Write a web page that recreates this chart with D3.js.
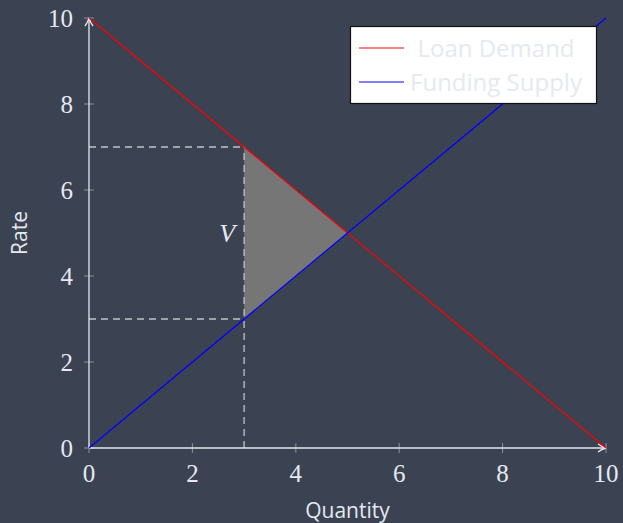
<!DOCTYPE html>
<html><head><meta charset="utf-8">
<script src="https://cdn.jsdelivr.net/npm/d3@7"></script>
<style>html,body{margin:0;padding:0;background:#3b4252;}svg{display:block;}</style>
</head><body><svg id="c" width="623" height="523"></svg>
<script>
const xTicks = [0, 2, 4, 6, 8, 10];
const yTicks = [0, 2, 4, 6, 8, 10];
const demandX = [0, 10];
const demandY = [10, 0];
const supplyX = [0, 10];
const supplyY = [0, 10];
const surplusX = [3, 5, 3];
const surplusY = [7, 5, 3];
const guideQ = 3;
const guideRates = [7, 3];
const seriesNames = ["Loan Demand", "Funding Supply"];
const seriesColors = ["#ff0000", "#0000ff"];

const svg = d3.select("#c");
const x = d3.scaleLinear().domain([0, 10]).range([89, 606]);
const y = d3.scaleLinear().domain([0, 10]).range([448, 18]);
const fg = "#e5e9f0";
const tickCol = "#8a8f99";

// surplus triangle
svg.append("path")
  .attr("d", d3.line().x((d,i)=>x(surplusX[i])).y((d,i)=>y(surplusY[i]))(surplusX) + "Z")
  .attr("fill", "#767676");

// dashed guides
const dash = svg.append("g").attr("stroke", "#c0c4cc").attr("stroke-width", 1.3).attr("stroke-dasharray", "7,5").attr("fill","none");
guideRates.forEach(r => {
  dash.append("line").attr("x1", x(0)).attr("x2", x(guideQ)).attr("y1", y(r)).attr("y2", y(r));
});
dash.append("line").attr("x1", x(guideQ)).attr("x2", x(guideQ)).attr("y1", y(0)).attr("y2", y(d3.max(guideRates)));

// ticks
const tg = svg.append("g");
xTicks.forEach(t => {
  tg.append("line").attr("x1", x(t)).attr("x2", x(t)).attr("y1", y(0)-5).attr("y2", y(0)+5).attr("stroke", tickCol).attr("stroke-width", 1);
  tg.append("text").attr("x", x(t)).attr("y", y(0)+34).attr("text-anchor","middle")
    .attr("font-family","'Liberation Serif', serif").attr("font-size", 25).attr("fill", fg).text(t);
});
yTicks.forEach(t => {
  tg.append("line").attr("x1", x(0)-5).attr("x2", x(0)+5).attr("y1", y(t)).attr("y2", y(t)).attr("stroke", tickCol).attr("stroke-width", 1);
  tg.append("text").attr("x", x(0)-16).attr("y", y(t)+9).attr("text-anchor","end")
    .attr("font-family","'Liberation Serif', serif").attr("font-size", 25).attr("fill", fg).text(t);
});

// axes with arrows
const defs = svg.append("defs");
defs.append("marker").attr("id","arr").attr("viewBox","0 0 10 10").attr("refX",9).attr("refY",5)
  .attr("markerWidth",10).attr("markerHeight",10).attr("markerUnits","userSpaceOnUse").attr("orient","auto")
  .append("path").attr("d","M1,1 Q5,4 9,5 Q5,6 1,9").attr("fill","none").attr("stroke", fg).attr("stroke-width",1.3);
svg.append("line").attr("x1", x(0)).attr("x2", x(10)).attr("y1", y(0)).attr("y2", y(0))
  .attr("stroke", fg).attr("stroke-width", 1.3).attr("marker-end","url(#arr)");
svg.append("line").attr("x1", x(0)).attr("x2", x(0)).attr("y1", y(0)).attr("y2", y(10))
  .attr("stroke", fg).attr("stroke-width", 1.3).attr("marker-end","url(#arr)");

// series lines
const line = d3.line();
svg.append("path").attr("d", line(demandX.map((v,i)=>[x(v), y(demandY[i])])))
  .attr("stroke", seriesColors[0]).attr("stroke-width", 1.2).attr("fill","none");
svg.append("path").attr("d", line(supplyX.map((v,i)=>[x(v), y(supplyY[i])])))
  .attr("stroke", seriesColors[1]).attr("stroke-width", 1.2).attr("fill","none");

// V label
svg.append("text").attr("x", x(guideQ)-17).attr("y", y(5)+9).attr("text-anchor","middle")
  .attr("font-family","'Liberation Serif', serif").attr("font-style","italic").attr("font-size", 26).attr("fill", fg).text("V");

// axis labels
svg.append("text").attr("x", (x(0)+x(10))/2).attr("y", 518).attr("text-anchor","middle")
  .attr("font-family","'Open Sans', sans-serif").attr("font-size", 21).attr("fill", fg).text("Quantity");
svg.append("text").attr("transform", `translate(27,${(y(0)+y(10))/2}) rotate(-90)`).attr("text-anchor","middle")
  .attr("font-family","'Open Sans', sans-serif").attr("font-size", 21).attr("fill", fg).text("Rate");

// legend
const lg = svg.append("g");
lg.append("rect").attr("x", 350.5).attr("y", 26.5).attr("width", 246).attr("height", 77)
  .attr("fill", "#ffffff").attr("stroke", "#111").attr("stroke-width", 1.2);
seriesNames.forEach((n,i) => {
  const yy = 48 + i*34;
  lg.append("line").attr("x1", 359).attr("x2", 404).attr("y1", yy).attr("y2", yy)
    .attr("stroke", seriesColors[i]).attr("stroke-width", 1.2);
  lg.append("text").attr("x", 496).attr("y", yy+9).attr("text-anchor","middle")
    .attr("font-family","'Open Sans', sans-serif").attr("font-size", 24).attr("fill", fg).text(n);
});
</script></body></html>
